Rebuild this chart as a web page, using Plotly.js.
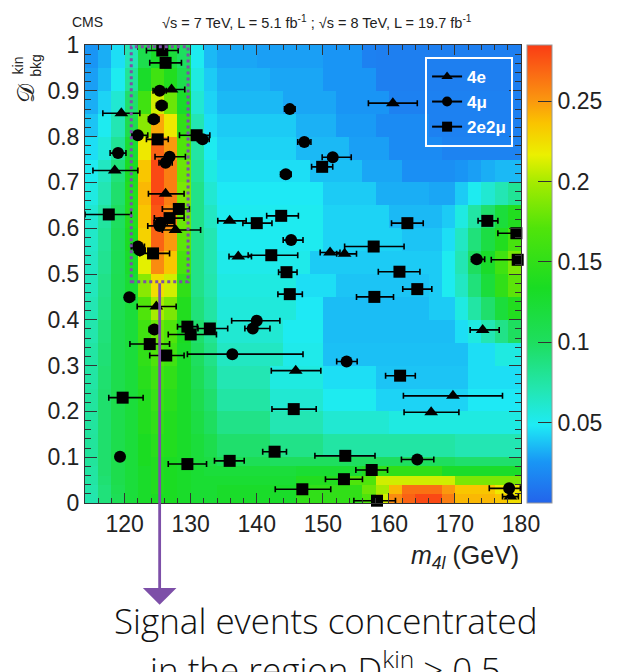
<!DOCTYPE html>
<html><head><meta charset="utf-8">
<script src="https://cdn.plot.ly/plotly-3.0.1.min.js"></script>
<style>html,body{margin:0;padding:0;background:#fff}</style>
</head><body>
<div id="chart" style="width:620px;height:672px"></div>
<script>
// ---- background template (bin edges + density per bin, rows from bottom to top) ----
const xEdges = [114,116,118,120,122,124,126,128,130,132,134,136,138,140,142,144,146,148,150,152,154,156,158,160,162,164,166,168,170,172,174,176,178,180];
const yEdges = [0,0.02,0.04,0.06,0.08,0.1,0.15,0.2,0.25,0.3,0.35,0.4,0.45,0.5,0.55,0.6,0.65,0.7,0.75,0.8,0.85,0.9,0.95,1.0];
const zDensity = [
 [.072,.09,.105,.12,.13,.135,.135,.13,.125,.125,.13,.13,.13,.13,.13,.13,.15,.15,.15,.15,.15,.17,.21,.255,.27,.28,.28,.26,.24,.24,.24,.235,.225],
 [.073,.09,.108,.12,.13,.14,.135,.13,.125,.125,.13,.13,.13,.13,.13,.13,.15,.15,.15,.15,.15,.18,.2,.24,.265,.265,.265,.25,.235,.235,.235,.22,.22],
 [.075,.093,.11,.12,.13,.14,.135,.13,.125,.125,.125,.125,.125,.125,.125,.125,.14,.14,.14,.14,.17,.17,.21,.21,.21,.21,.21,.21,.185,.185,.185,.185,.185],
 [.076,.095,.11,.12,.13,.14,.135,.13,.125,.12,.12,.12,.12,.12,.12,.12,.125,.125,.125,.125,.125,.14,.15,.15,.15,.15,.15,.13,.13,.13,.13,.13,.13],
 [.078,.095,.11,.12,.135,.14,.135,.13,.12,.115,.105,.105,.105,.105,.1,.1,.1,.1,.1,.1,.1,.1,.1,.1,.1,.1,.1,.1,.095,.095,.095,.095,.095],
 [.078,.095,.11,.12,.135,.145,.14,.13,.12,.11,.095,.095,.095,.095,.085,.085,.085,.085,.075,.075,.075,.075,.075,.075,.075,.075,.075,.075,.07,.07,.07,.07,.07],
 [.077,.095,.11,.12,.14,.15,.14,.13,.115,.1,.085,.085,.085,.085,.07,.07,.07,.07,.06,.06,.06,.06,.06,.055,.055,.055,.055,.055,.055,.055,.055,.055,.055],
 [.077,.095,.11,.12,.14,.155,.145,.13,.11,.095,.075,.075,.075,.075,.06,.06,.06,.06,.05,.05,.05,.05,.042,.042,.042,.042,.042,.042,.042,.048,.048,.048,.048],
 [.075,.094,.11,.12,.145,.16,.15,.13,.105,.09,.07,.07,.07,.07,.055,.055,.055,.055,.045,.045,.045,.045,.038,.038,.038,.038,.038,.038,.038,.045,.045,.045,.045],
 [.075,.092,.11,.12,.15,.17,.16,.13,.1,.085,.065,.065,.065,.065,.065,.052,.052,.052,.037,.037,.037,.037,.037,.037,.037,.037,.037,.037,.037,.045,.045,.055,.055],
 [.072,.09,.11,.12,.16,.18,.17,.135,.095,.08,.06,.06,.06,.06,.06,.05,.05,.05,.036,.036,.036,.036,.036,.036,.036,.036,.036,.036,.045,.055,.07,.085,.1],
 [.07,.087,.108,.12,.17,.2,.185,.14,.09,.075,.057,.057,.057,.057,.057,.057,.048,.048,.036,.036,.036,.036,.036,.036,.036,.036,.04,.04,.055,.075,.095,.12,.14],
 [.067,.085,.107,.125,.19,.225,.21,.15,.085,.072,.055,.055,.055,.055,.055,.055,.045,.045,.045,.038,.038,.038,.038,.038,.038,.038,.04,.05,.065,.09,.12,.15,.175],
 [.065,.082,.105,.13,.215,.255,.235,.165,.085,.07,.052,.052,.052,.052,.052,.052,.052,.04,.04,.04,.04,.04,.04,.04,.04,.04,.04,.05,.07,.1,.13,.16,.185],
 [.063,.08,.103,.135,.23,.27,.25,.175,.085,.07,.05,.05,.05,.05,.05,.05,.05,.05,.042,.042,.042,.042,.042,.042,.038,.038,.038,.045,.065,.09,.115,.14,.165],
 [.06,.077,.1,.14,.235,.275,.255,.18,.085,.065,.05,.05,.05,.05,.05,.05,.05,.05,.042,.042,.042,.042,.042,.035,.035,.035,.035,.04,.055,.075,.095,.12,.14],
 [.055,.07,.095,.14,.24,.28,.26,.185,.085,.06,.048,.048,.048,.048,.048,.048,.048,.048,.04,.04,.04,.04,.032,.032,.032,.032,.03,.03,.04,.05,.06,.07,.08],
 [.05,.065,.09,.135,.235,.28,.26,.18,.08,.055,.045,.045,.045,.045,.045,.045,.045,.037,.037,.037,.037,.03,.03,.03,.022,.022,.022,.022,.025,.028,.032,.035,.035],
 [.045,.057,.08,.125,.22,.27,.25,.17,.075,.05,.042,.042,.042,.042,.042,.042,.035,.035,.035,.035,.028,.028,.028,.02,.02,.02,.02,.016,.016,.016,.016,.016,.016],
 [.038,.05,.07,.11,.19,.245,.22,.15,.07,.045,.04,.04,.04,.04,.04,.04,.033,.033,.033,.027,.027,.027,.02,.02,.02,.02,.015,.015,.015,.015,.015,.015,.015],
 [.032,.042,.06,.095,.16,.21,.18,.13,.06,.042,.035,.035,.035,.035,.035,.03,.03,.03,.03,.025,.025,.025,.025,.015,.015,.015,.015,.015,.015,.015,.015,.015,.015],
 [.028,.036,.05,.08,.13,.16,.14,.11,.055,.04,.033,.033,.033,.033,.03,.03,.03,.03,.025,.025,.025,.025,.014,.014,.014,.014,.014,.014,.014,.014,.014,.014,.014],
 [.025,.032,.045,.07,.11,.13,.12,.10,.05,.035,.03,.03,.03,.028,.028,.028,.028,.028,.025,.025,.025,.015,.014,.014,.014,.014,.014,.014,.014,.014,.014,.014,.014]
];
const colorTicks = [0.05,0.1,0.15,0.2,0.25];

// ---- events: m4l (GeV), D_bkg^kin, mass uncertainty (low / high) ----
const names = ['4e','4\u03bc','2e2\u03bc'];
const e4_m  = [127.1,119.5,118.5,126.2,127.7,135.9,137.2,160.6,151.1,153.3,124.8,174.2,145.9,169.7,166.4,178.4];
const e4_d  = [0.903,0.851,0.726,0.675,0.596,0.616,0.538,0.873,0.547,0.544,0.429,0.378,0.289,0.234,0.198,0.014];
const e4_lo = [1.8,2.8,3.3,2.6,2.0,1.8,1.4,3.7,1.5,1.2,2.9,1.9,3.7,7.5,4.1,1.2];
const e4_hi = [2.0,2.8,3.5,2.8,3.8,2.5,2.0,3.7,1.5,1.8,3.0,2.5,3.8,7.5,4.2,1.2];

const mu4_m  = [125.3,125.6,124.4,122.0,131.8,119.0,126.8,126.2,125.45,125.3,122.0,122.3,145.0,147.2,151.5,144.4,145.2,173.3,120.7,124.5,140.0,139.4,136.3,153.6,119.3,164.3,178.2];
const mu4_d  = [0.900,0.868,0.838,0.803,0.794,0.764,0.756,0.743,0.612,0.605,0.560,0.552,0.860,0.788,0.755,0.718,0.574,0.532,0.449,0.379,0.398,0.381,0.325,0.309,0.101,0.095,0.032];
const mu4_lo = [1.0,0.8,0.8,0.9,0.8,1.2,2.2,1.0,1.0,1.8,1.0,0.8,0.8,1.0,1.6,0.8,1.2,0.8,0.6,0.8,3.8,1.2,6.8,1.5,0.5,2.4,3.0];
const mu4_hi = [1.0,0.8,0.8,1.5,1.0,1.2,2.4,1.0,1.0,2.2,1.0,0.8,0.8,1.0,2.8,0.8,1.8,1.2,0.8,0.8,3.5,2.6,10.7,1.6,0.5,2.5,1.7];

const em_m  = [125.7,126.2,125.0,130.9,117.6,128.2,126.8,124.3,140.0,143.7,142.2,149.9,162.8,157.7,174.9,179.3,179.5,144.5,161.6,145.0,164.3,157.8,161.7,145.6,142.7,153.4,157.4,153.2,146.9,158.2,129.5,130.0,132.9,123.8,126.3,119.7,129.5,135.9];
const em_d  = [0.988,0.961,0.794,0.803,0.630,0.642,0.622,0.545,0.611,0.627,0.541,0.734,0.611,0.560,0.616,0.589,0.531,0.504,0.505,0.456,0.467,0.450,0.278,0.205,0.112,0.103,0.072,0.052,0.030,0.005,0.385,0.368,0.381,0.347,0.322,0.230,0.085,0.092];
const em_lo = [2.4,2.4,1.7,2.6,3.6,2.5,2.3,2.0,2.1,2.2,3.5,1.6,2.4,4.4,1.4,2.8,4.0,1.2,3.2,1.8,2.2,2.7,2.2,3.3,1.8,4.6,2.4,2.8,4.1,3.5,1.5,3.4,1.8,3.0,2.5,2.1,2.9,2.3];
const em_hi = [2.4,2.4,1.6,2.0,3.4,1.6,2.2,2.5,2.3,2.6,4.0,1.6,2.4,4.6,1.6,0.7,0.5,1.6,3.1,1.9,2.2,2.9,2.3,3.4,1.8,4.5,2.4,2.8,4.3,2.8,1.5,3.9,2.7,3.0,2.7,3.1,2.9,2.2];

const FONT = 'Liberation Sans, Arial, Helvetica, sans-serif';
const LIGHT = 'Open Sans, Lato, Roboto, Liberation Sans, sans-serif';
const PURPLE = '#7d4fa8';
const colorscale = [
 [0.00,'rgb(35,100,235)'],[0.09,'rgb(25,150,245)'],[0.17,'rgb(30,235,245)'],
 [0.25,'rgb(35,230,175)'],[0.35,'rgb(30,222,95)'],[0.47,'rgb(25,220,35)'],
 [0.60,'rgb(80,228,10)'],[0.70,'rgb(165,235,0)'],[0.76,'rgb(235,240,0)'],
 [0.83,'rgb(250,195,0)'],[0.88,'rgb(250,150,15)'],[0.94,'rgb(250,105,20)'],[1.00,'rgb(250,60,20)']
];

function evTrace(m,d,lo,hi,sym,size){
  return {type:'scatter',mode:'markers',x:m,y:d,showlegend:false,cliponaxis:false,
    marker:{symbol:sym,size:size,color:'black'},
    error_x:{type:'data',symmetric:false,array:hi,arrayminus:lo,color:'black',thickness:1.6,width:3}};
}
function legTrace(name,sym,size){
  return {type:'scatter',mode:'lines+markers',x:[null],y:[null],name:name,
    line:{color:'black',width:2},marker:{symbol:sym,size:size,color:'black'}};
}

const data = [
 {type:'heatmap',x:xEdges,y:yEdges,z:zDensity,zmin:0,zmax:0.285,colorscale:colorscale,zsmooth:false,
  hoverinfo:'skip',
  colorbar:{x:1.0138,xanchor:'left',xpad:0,y:0.5,yanchor:'middle',len:1.0,ypad:0,
    thickness:25,thicknessmode:'pixels',tickvals:colorTicks,ticks:'inside',ticklen:14,tickcolor:'#333',
    tickfont:{size:23,family:FONT,color:'#222'},outlinewidth:1,outlinecolor:'#999'}},
 evTrace(e4_m,e4_d,e4_lo,e4_hi,'triangle-up',12),
 evTrace(mu4_m,mu4_d,mu4_lo,mu4_hi,'circle',12),
 evTrace(em_m,em_d,em_lo,em_hi,'square',12),
 legTrace(names[0],'triangle-up',10),
 legTrace(names[1],'circle',10),
 legTrace(names[2],'square',10)
];

const layout = {
  width:620,height:672,margin:{l:85,r:99,t:45,b:169,autoexpand:false},
  paper_bgcolor:'white',plot_bgcolor:'white',
  font:{family:FONT,color:'#222'},
  xaxis:{range:[114,180],tick0:120,dtick:10,ticks:'inside',ticklen:10,tickcolor:'#333',automargin:false,
    showline:true,linecolor:'#333',linewidth:1,mirror:'allticks',showgrid:false,zeroline:false,
    tickfont:{size:23,family:FONT,color:'#222'},
    minor:{dtick:2,ticks:'inside',ticklen:5,tickcolor:'#333',showgrid:false}},
  yaxis:{range:[0,1],tick0:0,dtick:0.1,ticks:'inside',ticklen:12,tickcolor:'#333',automargin:false,
    showline:true,linecolor:'#333',linewidth:1,mirror:'allticks',showgrid:false,zeroline:false,
    tickfont:{size:23,family:FONT,color:'#222'},
    minor:{dtick:0.02,ticks:'inside',ticklen:6,tickcolor:'#333',showgrid:false}},
  legend:{x:0.78,y:0.974,xanchor:'left',yanchor:'top',bgcolor:'rgba(0,0,0,0)',
    bordercolor:'white',borderwidth:2,font:{color:'white',size:17,family:FONT,weight:'bold'},
    itemwidth:30,tracegroupgap:0},
  shapes:[
    {type:'rect',xref:'x',yref:'y',x0:121.0,x1:129.6,y0:0.483,y1:0.996,
     line:{color:PURPLE,width:3,dash:'dot'}}
  ],
  annotations:[
    {xref:'x',yref:'y',x:125.3,y:-0.222,axref:'x',ayref:'y',ax:125.3,ay:0.483,text:'',
     showarrow:true,arrowhead:1,arrowsize:2,arrowwidth:2.8,arrowcolor:PURPLE},
    {xref:'paper',yref:'paper',x:-0.035,y:1.05,xanchor:'left',yanchor:'middle',showarrow:false,
     text:'CMS',font:{size:14,family:FONT,color:'#222'}},
    {xref:'paper',yref:'paper',x:0.171,y:1.05,xanchor:'left',yanchor:'middle',showarrow:false,
     text:'\u221As = 7 TeV, L = 5.1 fb<sup>-1</sup> ; \u221As = 8 TeV, L = 19.7 fb<sup>-1</sup>',
     font:{size:14.5,family:FONT,color:'#222'}},
    {xref:'paper',yref:'paper',x:1,y:-0.118,xanchor:'right',yanchor:'middle',showarrow:false,
     text:'<i>m</i><sub><i>4l</i></sub> (GeV)',font:{size:25,family:FONT,color:'#222'}},
    {xref:'paper',yref:'paper',x:-0.135,y:0.895,xanchor:'center',yanchor:'middle',showarrow:false,
     textangle:-90,text:'\uD835\uDC9F',font:{size:24,family:'DejaVu Serif, DejaVu Sans, serif',color:'#222'}},
    {xref:'paper',yref:'paper',x:-0.135,y:0.955,xanchor:'center',yanchor:'middle',showarrow:false,
     textangle:-90,text:'kin<br>bkg',font:{size:14,family:FONT,color:'#222'}},
    {xref:'paper',yref:'paper',x:0.552,y:-0.2555,xanchor:'center',yanchor:'middle',showarrow:false,
     text:'Signal events concentrated',font:{size:35,family:LIGHT,color:'#111',weight:300}},
    {xref:'paper',yref:'paper',x:0.552,y:-0.36,xanchor:'center',yanchor:'middle',showarrow:false,
     text:'in the region D<sup>kin</sup> &gt; 0.5',font:{size:35,family:LIGHT,color:'#111',weight:300}}
  ]
};

Plotly.newPlot('chart',data,layout,{displayModeBar:false,staticPlot:true});
</script>
</body></html>
